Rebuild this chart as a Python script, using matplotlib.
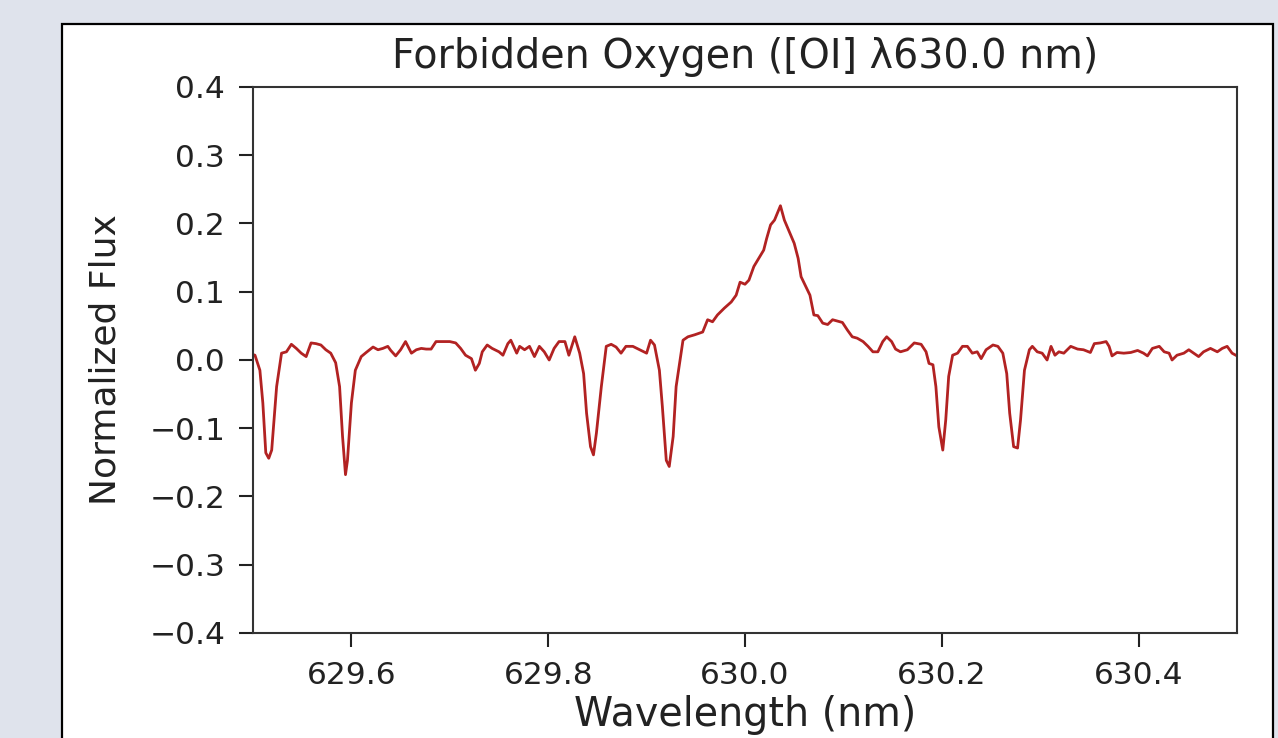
import numpy as np
import matplotlib
matplotlib.use("Agg")
import matplotlib.pyplot as plt
from matplotlib.patches import Rectangle

# spectrum (nm, normalized flux)
wavelength = [
    629.500, 629.502, 629.507, 629.510, 629.513, 629.516, 629.519, 629.524, 629.529, 629.534,
    629.539, 629.544, 629.549, 629.554, 629.559, 629.564, 629.569, 629.574, 629.579, 629.584,
    629.588, 629.591, 629.594, 629.596, 629.600, 629.604, 629.610, 629.615, 629.622, 629.627,
    629.632, 629.637, 629.640, 629.645, 629.650, 629.655, 629.661, 629.666, 629.671, 629.676,
    629.681, 629.686, 629.693, 629.700, 629.706, 629.711, 629.716, 629.722, 629.726, 629.730,
    629.733, 629.738, 629.743, 629.750, 629.754, 629.759, 629.762, 629.768, 629.771, 629.776,
    629.781, 629.786, 629.791, 629.796, 629.801, 629.806, 629.811, 629.817, 629.821, 629.827,
    629.832, 629.836, 629.839, 629.843, 629.846, 629.849, 629.854, 629.859, 629.864, 629.869,
    629.874, 629.879, 629.886, 629.893, 629.900, 629.904, 629.908, 629.913, 629.916, 629.920,
    629.923, 629.927, 629.930, 629.937, 629.942, 629.949, 629.957, 629.962, 629.967, 629.972,
    629.979, 629.986, 629.991, 629.995, 630.000, 630.004, 630.009, 630.014, 630.019, 630.022,
    630.026, 630.030, 630.036, 630.040, 630.045, 630.050, 630.054, 630.057, 630.062, 630.066,
    630.070, 630.074, 630.079, 630.084, 630.089, 630.094, 630.099, 630.104, 630.109, 630.114,
    630.120, 630.125, 630.130, 630.135, 630.140, 630.144, 630.149, 630.153, 630.158, 630.165,
    630.172, 630.179, 630.184, 630.187, 630.191, 630.194, 630.197, 630.201, 630.204, 630.207,
    630.211, 630.216, 630.221, 630.226, 630.231, 630.236, 630.240, 630.245, 630.252, 630.257,
    630.262, 630.266, 630.269, 630.273, 630.277, 630.280, 630.284, 630.289, 630.292, 630.297,
    630.302, 630.307, 630.311, 630.315, 630.319, 630.324, 630.331, 630.338, 630.344, 630.351,
    630.355, 630.361, 630.367, 630.370, 630.373, 630.378, 630.385, 630.392, 630.399, 630.405,
    630.409, 630.414, 630.421, 630.426, 630.431, 630.434, 630.439, 630.446, 630.451, 630.456,
    630.461, 630.466, 630.473, 630.480, 630.485, 630.490, 630.495, 630.500,
]
flux = [
    0.008, 0.007, -0.015, -0.063, -0.136, -0.144, -0.132, -0.039, 0.010, 0.012,
    0.023, 0.017, 0.010, 0.005, 0.025, 0.024, 0.022, 0.015, 0.010, -0.004,
    -0.039, -0.112, -0.168, -0.147, -0.063, -0.015, 0.005, 0.011, 0.019, 0.015,
    0.017, 0.020, 0.014, 0.006, 0.015, 0.027, 0.010, 0.015, 0.017, 0.016,
    0.016, 0.027, 0.027, 0.027, 0.025, 0.017, 0.007, 0.002, -0.015, -0.005,
    0.012, 0.022, 0.017, 0.012, 0.007, 0.024, 0.029, 0.010, 0.020, 0.015,
    0.020, 0.005, 0.020, 0.012, 0.000, 0.017, 0.027, 0.027, 0.007, 0.034,
    0.010, -0.020, -0.078, -0.127, -0.139, -0.107, -0.039, 0.020, 0.023, 0.019,
    0.010, 0.020, 0.020, 0.015, 0.010, 0.029, 0.022, -0.015, -0.068, -0.147,
    -0.156, -0.112, -0.039, 0.029, 0.034, 0.037, 0.041, 0.059, 0.056, 0.066,
    0.076, 0.085, 0.095, 0.114, 0.111, 0.117, 0.137, 0.149, 0.161, 0.178,
    0.198, 0.205, 0.226, 0.205, 0.188, 0.171, 0.149, 0.122, 0.107, 0.095,
    0.066, 0.065, 0.054, 0.052, 0.059, 0.057, 0.055, 0.044, 0.034, 0.032,
    0.027, 0.020, 0.012, 0.012, 0.027, 0.034, 0.027, 0.016, 0.012, 0.015,
    0.025, 0.023, 0.012, -0.005, -0.007, -0.039, -0.098, -0.132, -0.088, -0.024,
    0.007, 0.010, 0.020, 0.020, 0.010, 0.012, 0.002, 0.015, 0.022, 0.020,
    0.010, -0.020, -0.078, -0.127, -0.129, -0.088, -0.015, 0.015, 0.020, 0.012,
    0.010, 0.000, 0.020, 0.007, 0.012, 0.010, 0.020, 0.016, 0.015, 0.011,
    0.024, 0.025, 0.027, 0.020, 0.006, 0.011, 0.010, 0.011, 0.014, 0.010,
    0.006, 0.017, 0.020, 0.012, 0.010, 0.000, 0.007, 0.010, 0.015, 0.010,
    0.005, 0.012, 0.017, 0.012, 0.017, 0.020, 0.010, 0.006,
]

x_ticks = [629.6, 629.8, 630.0, 630.2, 630.4]
y_ticks = [-0.4, -0.3, -0.2, -0.1, 0.0, 0.1, 0.2, 0.3, 0.4]

plt.rcParams['font.family'] = ['DejaVu Sans']
text_color = '#222222'

fig = plt.figure(figsize=(12.78, 7.38), dpi=100, facecolor='#dfe3ec')
# white panel with dark border, cut off at the bottom like the screenshot
fig.patches.append(Rectangle((62 / 1278, -0.05), (1273 - 62) / 1278, 1.05 - 24 / 738,
                             transform=fig.transFigure, facecolor='white',
                             edgecolor='black', linewidth=1.6, zorder=-5))

ax = fig.add_axes([253 / 1278, 1 - 633 / 738, (1237 - 253) / 1278, (633 - 87) / 738])
ax.set_zorder(2)
ax.plot(wavelength, flux, color='#b22222', linewidth=2.0)
ax.set_xlim(629.5, 630.5)
ax.set_ylim(-0.4, 0.4)
ax.set_xticks(x_ticks)
ax.set_yticks(y_ticks)
ax.tick_params(labelsize=22.5, length=10, width=1.5, pad=10, colors=text_color)
for s in ax.spines.values():
    s.set_linewidth(1.5)
    s.set_color('#333333')

ax.set_title("Forbidden Oxygen ([OI] λ630.0 nm)", fontsize=28.5, color=text_color, pad=14)
ax.set_xlabel("Wavelength (nm)", fontsize=28.5, color=text_color, labelpad=4)
ax.set_ylabel("Normalized Flux", fontsize=26, color=text_color, labelpad=19)

fig.savefig("out.png", dpi=100, facecolor=fig.get_facecolor())
